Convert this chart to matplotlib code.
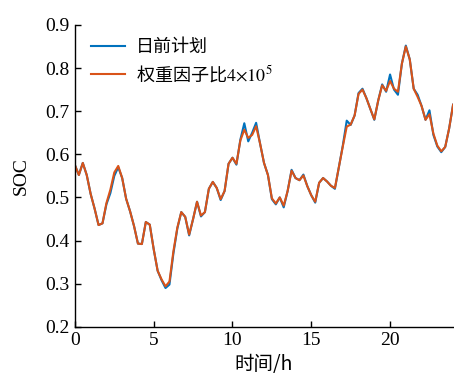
import numpy as np
import matplotlib
matplotlib.use("Agg")
import matplotlib.pyplot as plt

plt.rcParams["font.family"] = ["Liberation Serif", "Noto Sans CJK SC"]
plt.rcParams["mathtext.fontset"] = "stix"

# SOC sampled every 15 min over the day
hours = np.arange(0, 24.01, 0.25)

soc_weighted = [
    0.575, 0.552, 0.580, 0.552, 0.508, 0.474, 0.436, 0.440,
    0.487, 0.518, 0.558, 0.573, 0.545, 0.497, 0.468, 0.434,
    0.393, 0.392, 0.443, 0.437, 0.380, 0.330, 0.310, 0.294,
    0.305, 0.375, 0.430, 0.466, 0.455, 0.414, 0.450, 0.490,
    0.458, 0.466, 0.520, 0.536, 0.522, 0.496, 0.515, 0.578,
    0.592, 0.578, 0.632, 0.657, 0.638, 0.645, 0.665, 0.625,
    0.580, 0.552, 0.498, 0.486, 0.500, 0.481, 0.515, 0.562,
    0.545, 0.540, 0.551, 0.526, 0.505, 0.490, 0.534, 0.545,
    0.537, 0.527, 0.522, 0.570, 0.618, 0.664, 0.669, 0.690,
    0.740, 0.750, 0.730, 0.705, 0.681, 0.725, 0.760, 0.747,
    0.770, 0.752, 0.745, 0.810, 0.850, 0.820, 0.752, 0.733,
    0.712, 0.680, 0.693, 0.648, 0.620, 0.607, 0.617, 0.660,
    0.715,
]

soc_dayahead = [
    0.575, 0.552, 0.580, 0.552, 0.508, 0.474, 0.436, 0.440,
    0.484, 0.510, 0.550, 0.570, 0.545, 0.497, 0.468, 0.434,
    0.393, 0.392, 0.443, 0.437, 0.380, 0.330, 0.308, 0.290,
    0.298, 0.370, 0.428, 0.466, 0.455, 0.412, 0.450, 0.490,
    0.456, 0.466, 0.520, 0.536, 0.522, 0.494, 0.515, 0.578,
    0.592, 0.576, 0.634, 0.672, 0.630, 0.650, 0.673, 0.625,
    0.580, 0.552, 0.496, 0.484, 0.500, 0.477, 0.515, 0.564,
    0.545, 0.540, 0.553, 0.526, 0.505, 0.488, 0.534, 0.545,
    0.537, 0.527, 0.520, 0.570, 0.620, 0.678, 0.668, 0.690,
    0.742, 0.752, 0.730, 0.705, 0.680, 0.725, 0.762, 0.745,
    0.785, 0.750, 0.738, 0.810, 0.852, 0.820, 0.752, 0.738,
    0.712, 0.680, 0.702, 0.645, 0.618, 0.605, 0.617, 0.660,
    0.715,
]

fig = plt.figure(figsize=(4.54, 3.77), dpi=100)
ax = fig.add_axes([0.165, 0.133, 0.833, 0.801])

ax.plot(hours, soc_dayahead, color="#0072BD", lw=1.5, label="日前计划")
ax.plot(hours, soc_weighted, color="#D95319", lw=1.5,
        label="权重因子比$4{\\times}10^5$")

ax.set_xlim(0, 24)
ax.set_ylim(0.2, 0.9)
ax.set_xticks([0, 5, 10, 15, 20])
ax.set_yticks(np.arange(0.2, 0.91, 0.1))
ax.yaxis.set_major_formatter(plt.FormatStrFormatter("%.1f"))
ax.tick_params(direction="in", length=4, width=1, labelsize=14, pad=4)
for side in ("top", "right"):
    ax.spines[side].set_visible(False)
for side in ("left", "bottom"):
    ax.spines[side].set_linewidth(1)

ax.set_xlabel("时间/h", fontsize=14, labelpad=3,
              family=["Noto Sans CJK SC", "Liberation Serif"])
ax.set_ylabel("SOC", fontsize=14, labelpad=11)

leg = ax.legend(loc="upper left", bbox_to_anchor=(0.0, 1.01), frameon=False,
                prop={"family": ["Noto Sans CJK SC", "DejaVu Sans"], "size": 13},
                handlelength=1.9, handletextpad=0.6, labelspacing=0.4)

fig.savefig("out.png", dpi=100)
